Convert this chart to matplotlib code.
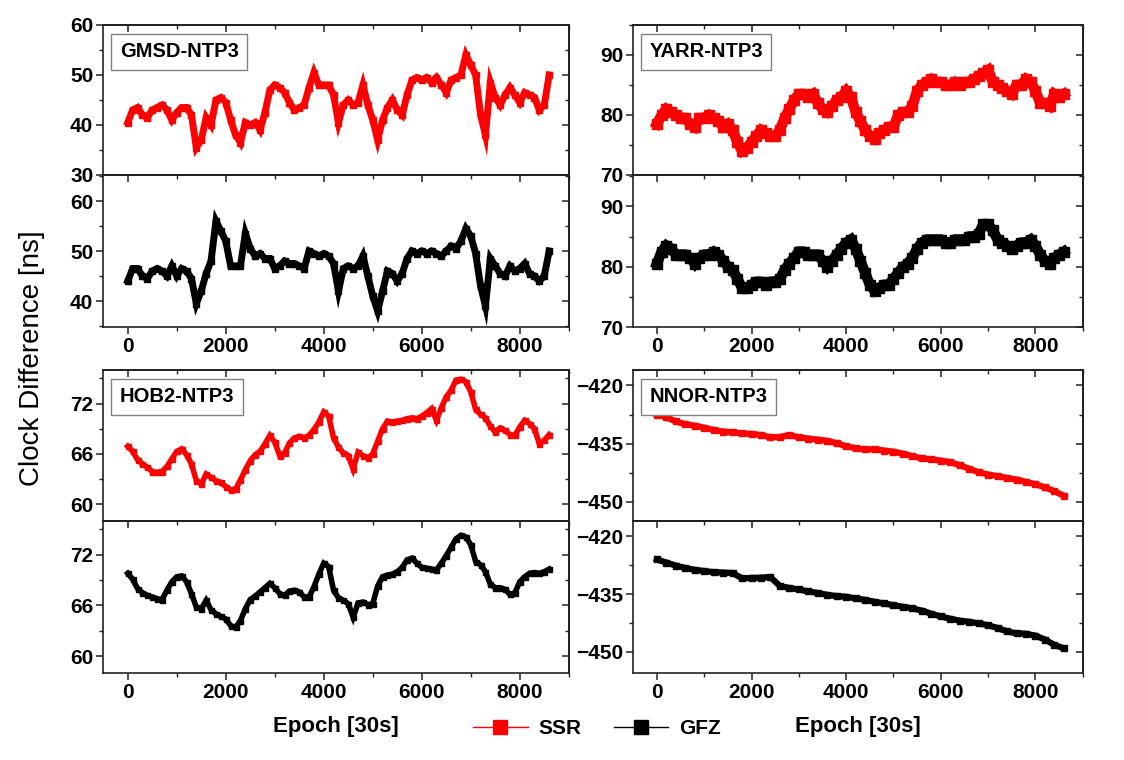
import numpy as np
import matplotlib
matplotlib.use("Agg")
import matplotlib.pyplot as plt
from matplotlib.lines import Line2D
from matplotlib.ticker import MultipleLocator

plt.rcParams['font.family'] = ['Liberation Sans', 'DejaVu Sans']
plt.rcParams['font.weight'] = 'bold'

# ---------------- data ----------------
EPOCH = np.arange(0, 8601, 100)        # 30 s epochs (sampled every 100)
EPOCH_NNOR = np.arange(0, 8601, 200)

GMSD_SSR = [40.5, 43, 43.5, 42, 41.5, 43, 43.5, 44, 43, 41,
            42.5, 43.5, 43.5, 42, 35.5, 37, 41.5, 40, 45, 45.5,
            44.5, 41, 38, 36.5, 40.5, 40, 40.5, 39, 42.5, 47,
            48, 47.5, 46.5, 44.5, 43, 43.5, 44, 47.5, 50.5, 48,
            48, 48, 46, 40.5, 44, 45, 44, 44.5, 48, 44,
            41, 37, 41, 43.5, 45, 43, 42, 46, 49, 49.5,
            49, 49.5, 48.5, 49.5, 48, 46.5, 49, 49.5, 50, 54,
            52, 50, 42, 38, 48.5, 45.5, 44, 46, 47.5, 46,
            44.5, 46.5, 46, 45.5, 43, 44, 50]
GMSD_GFZ = [44, 46.5, 46.5, 45, 44.5, 46, 46.5, 46, 45, 47,
            45, 46.5, 46, 44.5, 39.5, 42, 45.5, 48, 56, 54,
            52, 47, 47, 47, 53.5, 50.5, 49, 49.5, 48.5, 48.5,
            46.5, 47, 48, 47.5, 47.5, 47, 46.5, 50, 49.5, 49,
            49.5, 49, 47.5, 42, 46.5, 47, 46.5, 47, 49, 45,
            41, 38, 42, 46, 45.5, 44, 45.5, 48.5, 50, 49.5,
            50, 49.5, 50, 49.5, 49, 50, 51, 50.5, 52, 54.5,
            53, 49.5, 43, 39, 48.5, 47, 45.5, 45, 47, 46,
            46.5, 47.5, 45.5, 45, 44, 45, 50]

YARR_SSR = [78.5, 80, 81, 80.5, 80, 79.5, 79.5, 78.5, 78, 79.5,
            79.5, 80, 79.5, 79, 78, 78.5, 77.5, 75.5, 74, 74.5,
            75.5, 76.5, 77.5, 77, 76.5, 76.5, 77.5, 79.5, 81, 82.5,
            83.5, 83.5, 83, 83.5, 82, 81, 80.5, 81.5, 82.5, 83,
            84, 83, 80.5, 79, 77.5, 76.5, 76, 77, 77.5, 78,
            78, 80, 80.5, 80.5, 81.5, 84, 85, 85.5, 86, 85.5,
            85.5, 85, 85, 85.5, 85, 85.5, 85.5, 86, 86.5, 87,
            87.5, 85.5, 85, 84.5, 84, 83.5, 85, 85, 86, 85.5,
            84, 82, 82, 81.5, 83.5, 83, 83.5]
YARR_GFZ = [80.5, 82.5, 83.5, 83, 82, 82, 82, 81.5, 80.5, 81.5,
            82, 82, 82.5, 82, 81, 80, 79.5, 78, 76.5, 76.5,
            77, 77.5, 77.5, 77, 77.5, 77.5, 78, 79.5, 80.5, 81.5,
            82.5, 82.5, 82, 82, 82, 81, 80, 81, 82, 83,
            84, 84.5, 83, 81, 79, 77, 76, 76.5, 77, 77,
            78, 79, 80, 80.5, 81.5, 83, 84, 84.5, 84.5, 84.5,
            84.5, 84, 84, 84.5, 84.5, 84.5, 85, 85, 85.5, 87,
            87, 86, 84.5, 84, 83.5, 83, 83.5, 84, 84, 84.5,
            83.5, 82, 81, 80.5, 81.5, 82, 82.5]

HOB2_SSR = [66.9, 66.3, 65.3, 64.8, 64.4, 63.9, 63.8, 63.9, 64.5, 65.4,
            66.3, 66.6, 65.9, 64.8, 62.8, 62.4, 63.6, 63.2, 62.8, 62.6,
            62.1, 61.7, 61.8, 62.9, 64.1, 65.2, 65.9, 66.3, 67.2, 68.2,
            67.4, 65.8, 66.1, 67.3, 67.9, 68.1, 67.9, 68.2, 68.9, 69.8,
            71.0, 70.5, 67.9, 66.8, 66.1, 65.8, 64.2, 66.2, 65.8, 65.5,
            66.0, 67.5, 69.0, 69.9, 69.8, 69.9, 70.0, 70.2, 70.3, 70.2,
            70.5, 70.9, 71.4, 70.0, 71.5, 72.8, 73.6, 74.8, 74.9, 74.6,
            73.4, 71.3, 70.7, 70.3, 69.3, 68.6, 69.1, 68.8, 68.3, 68.2,
            69.2, 70.0, 69.6, 69.0, 67.2, 67.6, 68.3]
HOB2_GFZ = [69.8, 69.1, 68.0, 67.5, 67.2, 67.0, 66.8, 66.7, 67.8, 68.8,
            69.4, 69.5, 68.8, 67.4, 65.8, 65.6, 66.6, 65.5, 65.0, 64.7,
            64.4, 63.6, 63.4, 64.2, 65.6, 66.7, 67.1, 67.6, 68.1, 68.6,
            68.1, 67.4, 67.2, 67.7, 67.8, 67.6, 67.0, 67.0, 68.2, 69.7,
            71.0, 70.6, 67.8, 66.9, 66.6, 66.2, 64.6, 66.3, 66.4, 66.1,
            66.2, 68.3, 69.4, 69.6, 69.7, 70.0, 70.5, 71.4, 71.6, 71.0,
            70.5, 70.4, 70.3, 70.2, 71.0, 71.9, 72.9, 73.9, 74.3, 74.1,
            73.2, 71.2, 70.8, 70.0, 68.5, 68.1, 68.1, 67.9, 67.3, 67.5,
            68.8, 69.4, 69.8, 69.9, 69.8, 70.0, 70.3]

NNOR_SSR = [-427.5, -428.2, -429.3, -430.0, -430.4, -430.9, -431.5, -431.9, -432.1, -432.4,
            -432.5, -432.8, -433.4, -433.3, -432.8, -433.4, -433.7, -434.0, -434.3, -434.9,
            -435.7, -436.2, -436.5, -436.5, -436.8, -437.1, -437.6, -438.3, -438.8, -439.1,
            -439.4, -439.8, -440.6, -441.5, -442.4, -443.0, -443.4, -443.9, -444.3, -444.9,
            -445.5, -446.3, -447.3, -448.5]
NNOR_GFZ = [-426.0, -426.8, -427.6, -428.2, -428.7, -429.0, -429.3, -429.4, -429.5, -430.9,
            -430.8, -430.7, -430.6, -432.9, -433.4, -433.8, -434.3, -434.7, -435.2, -435.5,
            -435.7, -436.1, -436.5, -437.0, -437.4, -437.9, -438.3, -438.7, -439.3, -440.1,
            -440.8, -441.4, -441.9, -442.2, -442.6, -443.1, -443.8, -444.7, -445.2, -445.3,
            -445.8, -446.8, -448.2, -449.1]

STATIONS = ["GMSD-NTP3", "YARR-NTP3", "HOB2-NTP3", "NNOR-NTP3"]
X_TICKS = [0, 2000, 4000, 6000, 8000]

# ---------------- layout ----------------
W, H = 1124, 760
fig = plt.figure(figsize=(W / 100, H / 100), dpi=100)


def rect(x0, x1, ytop, ybot):
    return [x0 / W, 1 - ybot / H, (x1 - x0) / W, (ybot - ytop) / H]


panels = [
    dict(name=STATIONS[0], x=(103, 569), ssr_y=(25, 175), gfz_y=(175, 327),
         ep=EPOCH, ssr=GMSD_SSR, gfz=GMSD_GFZ,
         ssr_lim=(30, 60), gfz_lim=(34.8, 65.2), ssr_ticks=[30, 40, 50, 60],
         gfz_ticks=[40, 50, 60], minor=5, lw=5, xlabel=False),
    dict(name=STATIONS[1], x=(633, 1083), ssr_y=(25, 175), gfz_y=(175, 327),
         ep=EPOCH, ssr=YARR_SSR, gfz=YARR_GFZ,
         ssr_lim=(70, 95), gfz_lim=(70, 95.2), ssr_ticks=[70, 80, 90],
         gfz_ticks=[70, 80, 90], minor=5, lw=7.5, xlabel=False),
    dict(name=STATIONS[2], x=(103, 569), ssr_y=(370, 521), gfz_y=(521, 673),
         ep=EPOCH, ssr=HOB2_SSR, gfz=HOB2_GFZ,
         ssr_lim=(58, 76), gfz_lim=(58, 76), ssr_ticks=[60, 66, 72],
         gfz_ticks=[60, 66, 72], minor=3, lw=4, xlabel=True),
    dict(name=STATIONS[3], x=(633, 1083), ssr_y=(370, 521), gfz_y=(521, 673),
         ep=EPOCH_NNOR, ssr=NNOR_SSR, gfz=NNOR_GFZ,
         ssr_lim=(-455, -416), gfz_lim=(-455.5, -416), ssr_ticks=[-450, -435, -420],
         gfz_ticks=[-450, -435, -420], minor=7.5, lw=4.5, xlabel=True),
]

TICK_FS = 15
SPINE_C = '#222222'


def style_axis(ax, yticks, minor, show_xlabels, show_bottom):
    ax.set_xlim(-505, 9005)
    ax.set_xticks(X_TICKS)
    ax.xaxis.set_minor_locator(MultipleLocator(1000))
    ax.set_yticks(yticks)
    ax.yaxis.set_minor_locator(MultipleLocator(minor))
    for s in ax.spines.values():
        s.set_linewidth(1.2)
        s.set_color(SPINE_C)
    ax.tick_params(axis='y', which='major', direction='out', length=5, width=1.1,
                   labelsize=TICK_FS, pad=2, colors=SPINE_C, labelcolor='black')
    ax.tick_params(axis='y', which='minor', direction='out', length=3, width=1.0,
                   colors=SPINE_C)
    ax.tick_params(axis='x', which='major', direction='out', length=5, width=1.1,
                   labelsize=TICK_FS, pad=2, colors=SPINE_C, labelcolor='black',
                   bottom=show_bottom, labelbottom=show_xlabels)
    ax.tick_params(axis='x', which='minor', direction='out', length=3, width=1.0,
                   colors=SPINE_C, bottom=show_bottom)
    # mirrored inward ticks on top and right
    sx = ax.secondary_xaxis('top')
    sx.set_xticks(X_TICKS)
    sx.xaxis.set_minor_locator(MultipleLocator(1000))
    sx.tick_params(which='major', direction='in', length=5, width=1.1,
                   labeltop=False, colors=SPINE_C)
    sx.tick_params(which='minor', direction='in', length=3, width=1.0, colors=SPINE_C)
    sx.spines['top'].set_linewidth(1.2)
    sy = ax.secondary_yaxis('right')
    sy.set_yticks(yticks)
    sy.yaxis.set_minor_locator(MultipleLocator(minor))
    sy.tick_params(which='major', direction='in', length=5, width=1.1,
                   labelright=False, colors=SPINE_C)
    sy.tick_params(which='minor', direction='in', length=3, width=1.0, colors=SPINE_C)
    sy.spines['right'].set_linewidth(1.2)


for p in panels:
    ax1 = fig.add_axes(rect(p['x'][0], p['x'][1], *p['ssr_y']))
    ax2 = fig.add_axes(rect(p['x'][0], p['x'][1], *p['gfz_y']))
    ax1.plot(p['ep'], p['ssr'], color='#ff0000', lw=p['lw'], marker='s',
             markersize=p['lw'] * 0.9, solid_joinstyle='miter')
    ax2.plot(p['ep'], p['gfz'], color='black', lw=p['lw'], marker='s',
             markersize=p['lw'] * 0.9, solid_joinstyle='miter')
    ax1.set_ylim(*p['ssr_lim'])
    ax2.set_ylim(*p['gfz_lim'])
    style_axis(ax1, p['ssr_ticks'], p['minor'], False, False)
    style_axis(ax2, p['gfz_ticks'], p['minor'], True, True)
    ax1.text(0.036, 0.885, p['name'], transform=ax1.transAxes, ha='left', va='top',
             fontsize=14.5, fontweight='bold',
             bbox=dict(boxstyle='square,pad=0.42', facecolor='white',
                       edgecolor='#808080', linewidth=1.0))
    if p['xlabel']:
        ax2.set_xlabel('Epoch [30s]', fontsize=16, fontweight='bold', labelpad=10)

fig.text(32 / W, 1 - 358 / H, 'Clock Difference [ns]', rotation=90, ha='center',
         va='center', fontsize=20, fontweight='normal')

handles = [Line2D([], [], color='#ff0000', lw=1, marker='s', markersize=10,
                  label='SSR'),
           Line2D([], [], color='black', lw=1, marker='s', markersize=10,
                  label='GFZ')]
fig.legend(handles=handles, loc='center', bbox_to_anchor=(597 / W, 1 - 729 / H),
           ncol=2, frameon=False, handlelength=2.6, handletextpad=0.5,
           columnspacing=1.6, prop=dict(size=15, weight='bold'))

fig.savefig('out.png', dpi=100)
